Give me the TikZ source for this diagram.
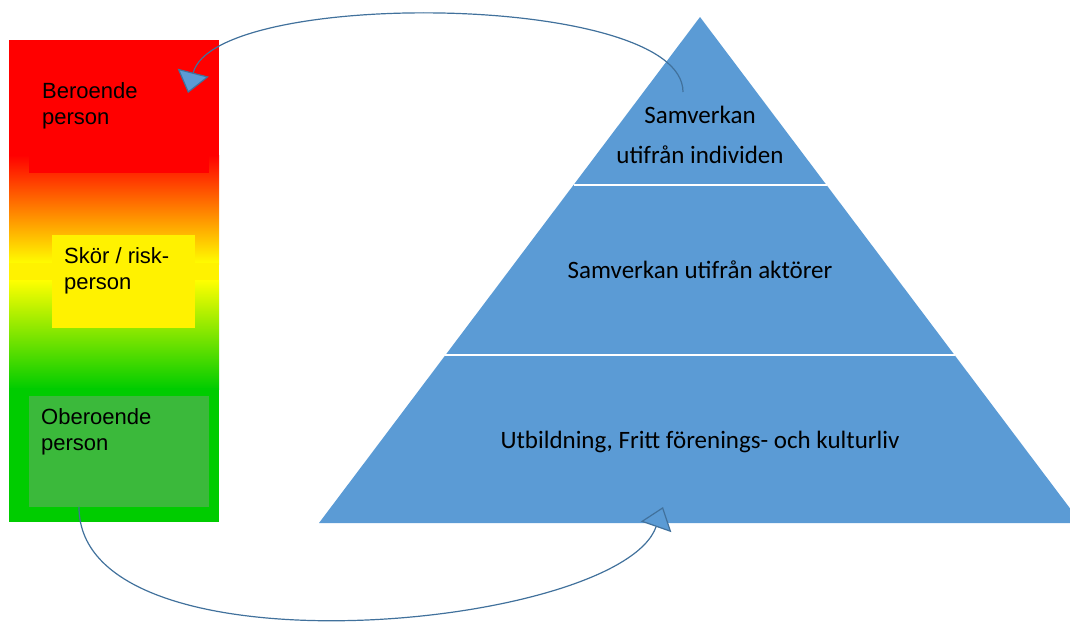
\documentclass[tikz,border=0pt]{standalone}
\usepackage{fontspec}
\setmainfont{Carlito}
\newfontfamily\arialfont{Liberation Sans}
\usetikzlibrary{arrows.meta,calc}
\definecolor{pyrblue}{HTML}{5B9BD5}
\definecolor{lineblue}{HTML}{41719C}
\definecolor{riskgreen}{HTML}{00CC00}
\definecolor{boxgreen}{HTML}{3BB93B}

\begin{document}
\begin{tikzpicture}[x=1pt,y=-1pt]
	\tikzset{lbl/.style={anchor=base west, align=left, inner sep=0pt, font=\arialfont\fontsize{22}{26}\selectfont},
		plbl/.style={anchor=base, align=center, inner sep=0pt, font=\fontsize{25}{40}\selectfont},
		cyc/.style={lineblue, line width=1.2pt, -{Triangle[length=21pt,width=32pt,fill=pyrblue]}}};

	\useasboundingbox (0,0) rectangle (1070,621);
	\clip (0,0) rectangle (1070,621);

	% the scale bar
	\fill[red] (9,40) rectangle (219,156);
	\shade[top color=red, bottom color=yellow] (9,155) rectangle (219,264);
	\fill[yellow] (9,263) rectangle (219,281);
	\shade[top color=yellow, bottom color=riskgreen] (9,280) rectangle (219,389);
	\fill[riskgreen] (9,388) rectangle (219,522);

	\fill[red] (29,57) rectangle (209,173);
	\fill[yellow] (52,235) rectangle (195,328);
	\fill[boxgreen] (29,396) rectangle (209,507);

	% base anchor sits on the last line
	\node[lbl] (dep) at (42,124) {Beroende\\person};
	\node[lbl] (risk) at (64,289) {Skör / risk-\\person};
	\node[lbl] (indep) at (41,450) {Oberoende\\person};

	% the pyramid
	\coordinate (apex) at (700,17);
	\coordinate (bl) at (319,523);
	\coordinate (br) at (1081,523);
	\fill[pyrblue] (apex) -- (bl) -- (br) -- cycle;
	\draw[white, line width=2.5pt] ($(apex)!0.332!(bl)$) -- ($(apex)!0.332!(br)$);
	\draw[white, line width=2.5pt] ($(apex)!0.668!(bl)$) -- ($(apex)!0.668!(br)$);

	\node[plbl] (top) at (700,163) {Samverkan\\utifrån individen};
	\node[plbl] (mid) at (700,278) {Samverkan utifrån aktörer};
	\node[plbl] (base) at (700,448) {Utbildning, Fritt förenings- och kulturliv};

	% the two curved arrows
	\coordinate (ts) at (683,92);
	\coordinate (te) at (188,93);
	\coordinate (bs) at (79,507);
	\coordinate (be) at (663,507);

	\draw[cyc] (ts) .. controls (683,-8) and (215,-12) .. (te);
	\draw[cyc] (bs) .. controls (79,680) and (620,630) .. (be);

\end{tikzpicture}
\end{document}
